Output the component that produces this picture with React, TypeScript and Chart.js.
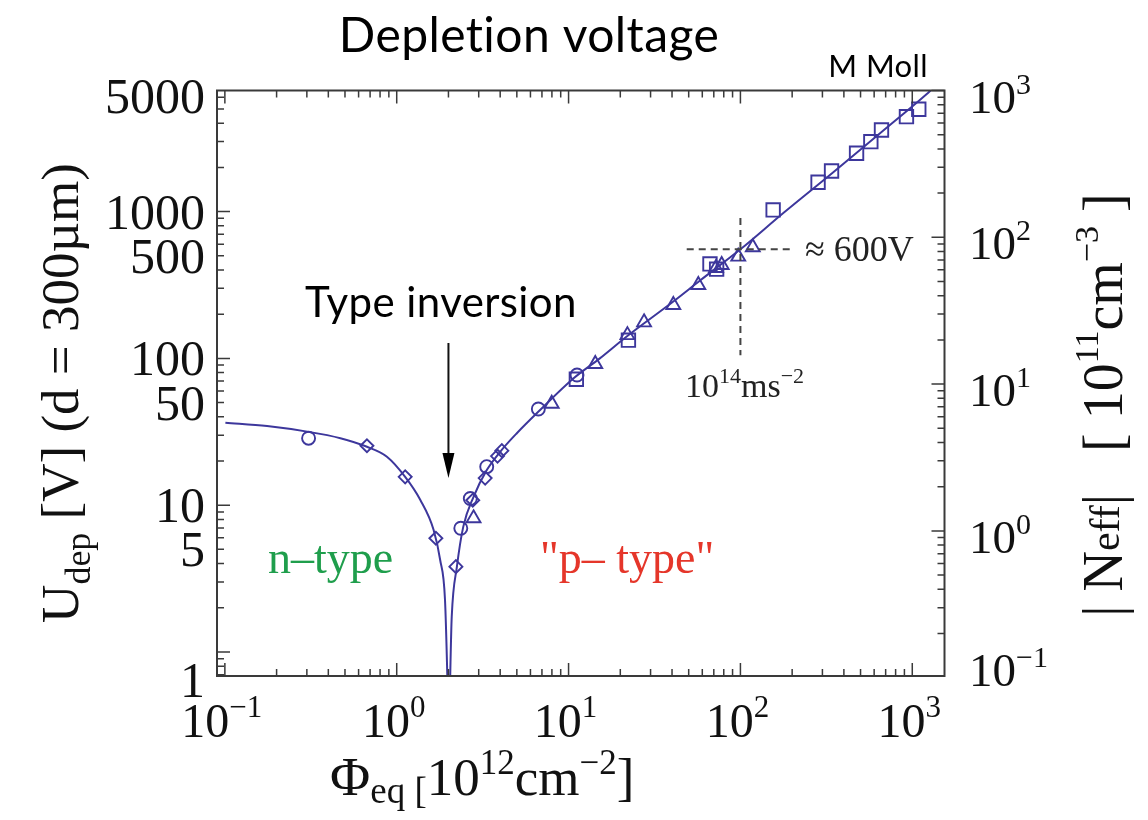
import React, { useEffect, useRef } from "react";
import { Chart, registerables } from "chart.js";

Chart.register(...registerables);

// ---------- data ----------
// fitted curve: Phi_eq [1e12 cm^-2] vs U_dep [V]
const curvePhi = [0.1007, 0.176, 0.301, 0.47, 0.671, 0.877, 1.12, 1.37, 1.64, 1.79, 1.91, 1.97, 2.0, 2.09, 2.24, 2.44, 2.8, 3.35, 4.0, 5.0, 6.83, 10.7, 15.2, 21.8, 40.7, 58.2, 100, 177, 347, 676, 1210, 1300];
const curveUdep = [36.5, 34.6, 31.7, 28.6, 25.0, 21.4, 15.6, 10.9, 6.78, 4.23, 2.26, 0.686, 0.3, 1.74, 3.81, 7.14, 11.4, 17.4, 23.1, 30.9, 44.5, 73.2, 100, 141, 244, 339, 553, 973, 1853, 3550, 6300, 6800];

const circlePhi = [0.307, 2.36, 2.68, 3.34, 6.67, 11.2];
const circleUdep = [28.6, 6.96, 11.1, 18.3, 45.2, 77.1];

const diamondPhi = [0.671, 1.12, 1.69, 2.21, 2.77, 3.27, 3.86, 4.09];
const diamondUdep = [25.4, 15.6, 5.95, 3.81, 10.8, 15.3, 21.6, 23.5];

const trianglePhi = [2.8, 7.98, 14.3, 22.0, 27.5, 40.7, 56.9, 72.1, 77.8, 97.1, 118];
const triangleUdep = [8.14, 49.1, 91.6, 144, 176, 231, 316, 413, 433, 493, 571];

const squarePhi = [11.1, 22.3, 66.5, 72.7, 155, 283, 339, 474, 574, 662, 925, 1091];
const squareUdep = [72.1, 133, 440, 405, 1026, 1585, 1891, 2496, 2993, 3596, 4429, 4977];

// reference marks
const crossPhi = 100; // 1e14 cm^-2
const crossUdep = 553; // ~600 V
const inversionPhi = 2.0;

// axes
const X_MIN = 0.09;
const X_MAX = 1540;
const U_MIN = 0.686;
const U_MAX = 6680;
const U_PER_N = 6.68; // volts per 1e11 cm^-3 at d = 300 um
const N_MIN = U_MIN / U_PER_N;
const N_MAX = U_MAX / U_PER_N;

const xTickValues = [0.1, 1, 10, 100, 1000];
const xTickExps = ["\u22121", "0", "1", "2", "3"];
const yTickValues = [1, 5, 10, 50, 100, 500, 1000, 5000];
const yTickLabels = ["1", "5", "10", "50", "100", "500", "1000", "5000"];
const nTickValues = [0.1, 1, 10, 100, 1000];
const nTickExps = ["\u22121", "0", "1", "2", "3"];

// ---------- styles ----------
const LINE = "#3d379c";
const FRAME = "#3a3a3a";
const SERIF = "'Liberation Serif', 'DejaVu Serif', serif";
const SANS = "Lato, 'Open Sans', sans-serif";

type Seg = { t: string; size: number; dy?: number };

function richWidth(ctx: CanvasRenderingContext2D, segs: Seg[], family: string) {
  let w = 0;
  for (const s of segs) {
    ctx.font = `${s.size}px ${family}`;
    w += ctx.measureText(s.t).width;
  }
  return w;
}

function drawRich(ctx: CanvasRenderingContext2D, segs: Seg[], x: number, y: number, align: string, family: string) {
  const w = richWidth(ctx, segs, family);
  let cx = align === "center" ? x - w / 2 : align === "right" ? x - w : x;
  for (const s of segs) {
    ctx.font = `${s.size}px ${family}`;
    ctx.fillText(s.t, cx, y + (s.dy || 0));
    cx += ctx.measureText(s.t).width;
  }
}

function logTicks(min: number, max: number) {
  const out: { v: number; major: boolean }[] = [];
  for (let d = -3; d <= 5; d++) {
    for (let m = 1; m <= 9; m++) {
      const v = m * Math.pow(10, d);
      if (v >= min * 0.999 && v <= max * 1.001) out.push({ v, major: m === 1 });
    }
  }
  return out;
}

const decorPlugin = {
  id: "decor",
  afterDraw(chart: any) {
    const ctx: CanvasRenderingContext2D = chart.ctx;
    const a = chart.chartArea;
    const xs = chart.scales.x;
    const ys = chart.scales.y;
    const ns = chart.scales.yN;
    ctx.save();
    ctx.textBaseline = "alphabetic";
    ctx.textAlign = "left";

    // crosshair (dashed)
    ctx.strokeStyle = "#444";
    ctx.lineWidth = 2;
    ctx.setLineDash([7, 5]);
    const cx = xs.getPixelForValue(crossPhi);
    const cy = ys.getPixelForValue(crossUdep);
    ctx.beginPath();
    ctx.moveTo(cx, ys.getPixelForValue(904));
    ctx.lineTo(cx, ys.getPixelForValue(105));
    ctx.moveTo(xs.getPixelForValue(48.7), cy);
    ctx.lineTo(xs.getPixelForValue(194), cy);
    ctx.stroke();
    ctx.setLineDash([]);

    // frame
    ctx.strokeStyle = FRAME;
    ctx.lineWidth = 2;
    ctx.strokeRect(a.left, a.top, a.right - a.left, a.bottom - a.top);

    // ticks
    ctx.lineWidth = 1.5;
    ctx.beginPath();
    for (const t of logTicks(X_MIN, X_MAX)) {
      const px = xs.getPixelForValue(t.v);
      const len = t.major ? 13 : 7;
      ctx.moveTo(px, a.bottom);
      ctx.lineTo(px, a.bottom - len);
      ctx.moveTo(px, a.top);
      ctx.lineTo(px, a.top + len);
    }
    for (const t of logTicks(U_MIN, U_MAX)) {
      const py = ys.getPixelForValue(t.v);
      const len = t.major ? 13 : 7;
      ctx.moveTo(a.left, py);
      ctx.lineTo(a.left + len, py);
    }
    for (const t of logTicks(N_MIN, N_MAX)) {
      const py = ns.getPixelForValue(t.v);
      const len = t.major ? 13 : 7;
      ctx.moveTo(a.right, py);
      ctx.lineTo(a.right - len, py);
    }
    ctx.stroke();

    ctx.fillStyle = "#111";
    // x tick labels (whole label centred on the tick)
    xTickValues.forEach((v, i) => {
      const px = xs.getPixelForValue(v);
      drawRich(ctx, [{ t: "10", size: 48 }, { t: xTickExps[i], size: 31, dy: -20 }], px - 3, 737, "center", SERIF);
    });
    // left tick labels (end labels pinned to the frame as in the original)
    yTickValues.forEach((v, i) => {
      let py = ys.getPixelForValue(v);
      if (i === 0) py = a.bottom + 4;
      if (i === yTickValues.length - 1) py = a.top + 5;
      ctx.font = `50px ${SERIF}`;
      ctx.textAlign = "right";
      ctx.fillText(yTickLabels[i], 205, py + 17);
      ctx.textAlign = "left";
    });
    // right tick labels
    nTickValues.forEach((v, i) => {
      let py = ns.getPixelForValue(v);
      if (py > a.bottom) py = a.bottom - 12;
      drawRich(ctx, [{ t: "10", size: 47 }, { t: nTickExps[i], size: 30, dy: -19 }], 969, py + 22, "left", SERIF);
    });

    // x axis title
    drawRich(ctx, [
      { t: "\u03a6", size: 55 },
      { t: "eq [", size: 37, dy: 8 },
      { t: "10", size: 53 },
      { t: "12", size: 35, dy: -21 },
      { t: "cm", size: 53 },
      { t: "\u22122", size: 35, dy: -21 },
      { t: "]", size: 53 },
    ], 330, 795, "left", SERIF);

    // left axis title
    ctx.save();
    ctx.translate(78, 393);
    ctx.rotate(-Math.PI / 2);
    drawRich(ctx, [
      { t: "U", size: 53 },
      { t: "dep", size: 36, dy: 12 },
      { t: " [V] (d = 300\u00b5m)", size: 53 },
    ], 0, 0, "center", SERIF);
    ctx.restore();

    // right axis title
    ctx.save();
    ctx.translate(1122, 405);
    ctx.rotate(-Math.PI / 2);
    drawRich(ctx, [
      { t: "| N", size: 56 },
      { t: "eff", size: 42, dy: -3 },
      { t: "|   [ 10", size: 56 },
      { t: "11", size: 34, dy: -24 },
      { t: "cm", size: 56 },
      { t: "\u22123", size: 34, dy: -24 },
      { t: " ]", size: 56 },
    ], 0, 0, "center", SERIF);
    ctx.restore();

    // crosshair labels
    ctx.fillStyle = "#222";
    drawRich(ctx, [{ t: "\u2248 600V", size: 36 }], 805, cy + 12, "left", SERIF);
    drawRich(ctx, [
      { t: "10", size: 34 },
      { t: "14", size: 22, dy: -14 },
      { t: "ms", size: 34 },
      { t: "\u22122", size: 22, dy: -14 },
    ], 685, 397, "left", SERIF);

    // region labels
    ctx.fillStyle = "#1f9e4c";
    drawRich(ctx, [{ t: "n\u2013type", size: 46 }], 268, 573, "left", SERIF);
    ctx.fillStyle = "#e5362a";
    drawRich(ctx, [{ t: "\"p\u2013 type\"", size: 46 }], 540, 573, "left", SERIF);

    // titles (sans)
    ctx.fillStyle = "#000";
    (ctx as any).letterSpacing = "0.4px";
    ctx.font = `48px ${SANS}`;
    ctx.textAlign = "center";
    ctx.fillText("Depletion voltage", 529, 52);
    ctx.textAlign = "right";
    ctx.font = `31px ${SANS}`;
    ctx.fillText("M Moll", 928, 77);
    ctx.textAlign = "left";
    ctx.font = `42px ${SANS}`;
    ctx.fillText("Type inversion", 305, 317);
    (ctx as any).letterSpacing = "0px";

    // arrow
    const ax = xs.getPixelForValue(inversionPhi);
    ctx.strokeStyle = "#111";
    ctx.lineWidth = 2;
    ctx.beginPath();
    ctx.moveTo(ax, 343);
    ctx.lineTo(ax, 458);
    ctx.stroke();
    ctx.beginPath();
    ctx.moveTo(ax - 6, 453);
    ctx.lineTo(ax + 6, 453);
    ctx.lineTo(ax, 478);
    ctx.closePath();
    ctx.fill();

    ctx.restore();
  },
};

function pts(xs: number[], ys: number[]) {
  return xs.map((x, i) => ({ x, y: ys[i] }));
}

export default function App() {
  const ref = useRef<HTMLCanvasElement | null>(null);
  useEffect(() => {
    if (!ref.current) return;
    const common = {
      showLine: false,
      borderColor: LINE,
      backgroundColor: "rgba(0,0,0,0)",
      pointBorderColor: LINE,
      pointBackgroundColor: "rgba(0,0,0,0)",
      pointBorderWidth: 1.9,
      yAxisID: "y",
    };
    const chart = new Chart(ref.current, {
      type: "scatter",
      data: {
        datasets: [
          {
            type: "line",
            label: "fit",
            data: pts(curvePhi, curveUdep),
            borderColor: LINE,
            borderWidth: 2,
            pointRadius: 0,
            fill: false,
            cubicInterpolationMode: "monotone",
            yAxisID: "y",
          } as any,
          { ...common, label: "circles", data: pts(circlePhi, circleUdep), pointStyle: "circle", pointRadius: 6.5 },
          { ...common, label: "diamonds", data: pts(diamondPhi, diamondUdep), pointStyle: "rectRot", pointRadius: 6.5 },
          { ...common, label: "triangles", data: pts(trianglePhi, triangleUdep), pointStyle: "triangle", pointRadius: 8 },
          { ...common, label: "squares", data: pts(squarePhi, squareUdep), pointStyle: "rect", pointRadius: 9.5 },
        ],
      },
      options: {
        animation: false,
        responsive: false,
        devicePixelRatio: 1,
        layout: { padding: { top: 90.5, left: 0, right: 0, bottom: 0 } },
        plugins: { legend: { display: false }, tooltip: { enabled: false }, title: { display: false } },
        scales: {
          x: {
            type: "logarithmic",
            min: X_MIN,
            max: X_MAX,
            ticks: { display: false },
            grid: { display: false },
            border: { display: false },
            afterFit: (s: any) => { s.height = 144; },
          },
          y: {
            type: "logarithmic",
            position: "left",
            min: U_MIN,
            max: U_MAX,
            ticks: { display: false },
            grid: { display: false },
            border: { display: false },
            afterFit: (s: any) => { s.width = 217; },
          },
          yN: {
            type: "logarithmic",
            position: "right",
            min: N_MIN,
            max: N_MAX,
            ticks: { display: false },
            grid: { display: false },
            border: { display: false },
            afterFit: (s: any) => { s.width = 203.5; },
          },
        },
      } as any,
      plugins: [decorPlugin],
    });
    return () => chart.destroy();
  }, []);
  return (
    <div style={{ position: "absolute", left: 0, top: 0, width: 1148, height: 820, background: "#fff" }}>
      <canvas ref={ref} width={1148} height={820} style={{ display: "block", width: 1148, height: 820 }} />
    </div>
  );
}
